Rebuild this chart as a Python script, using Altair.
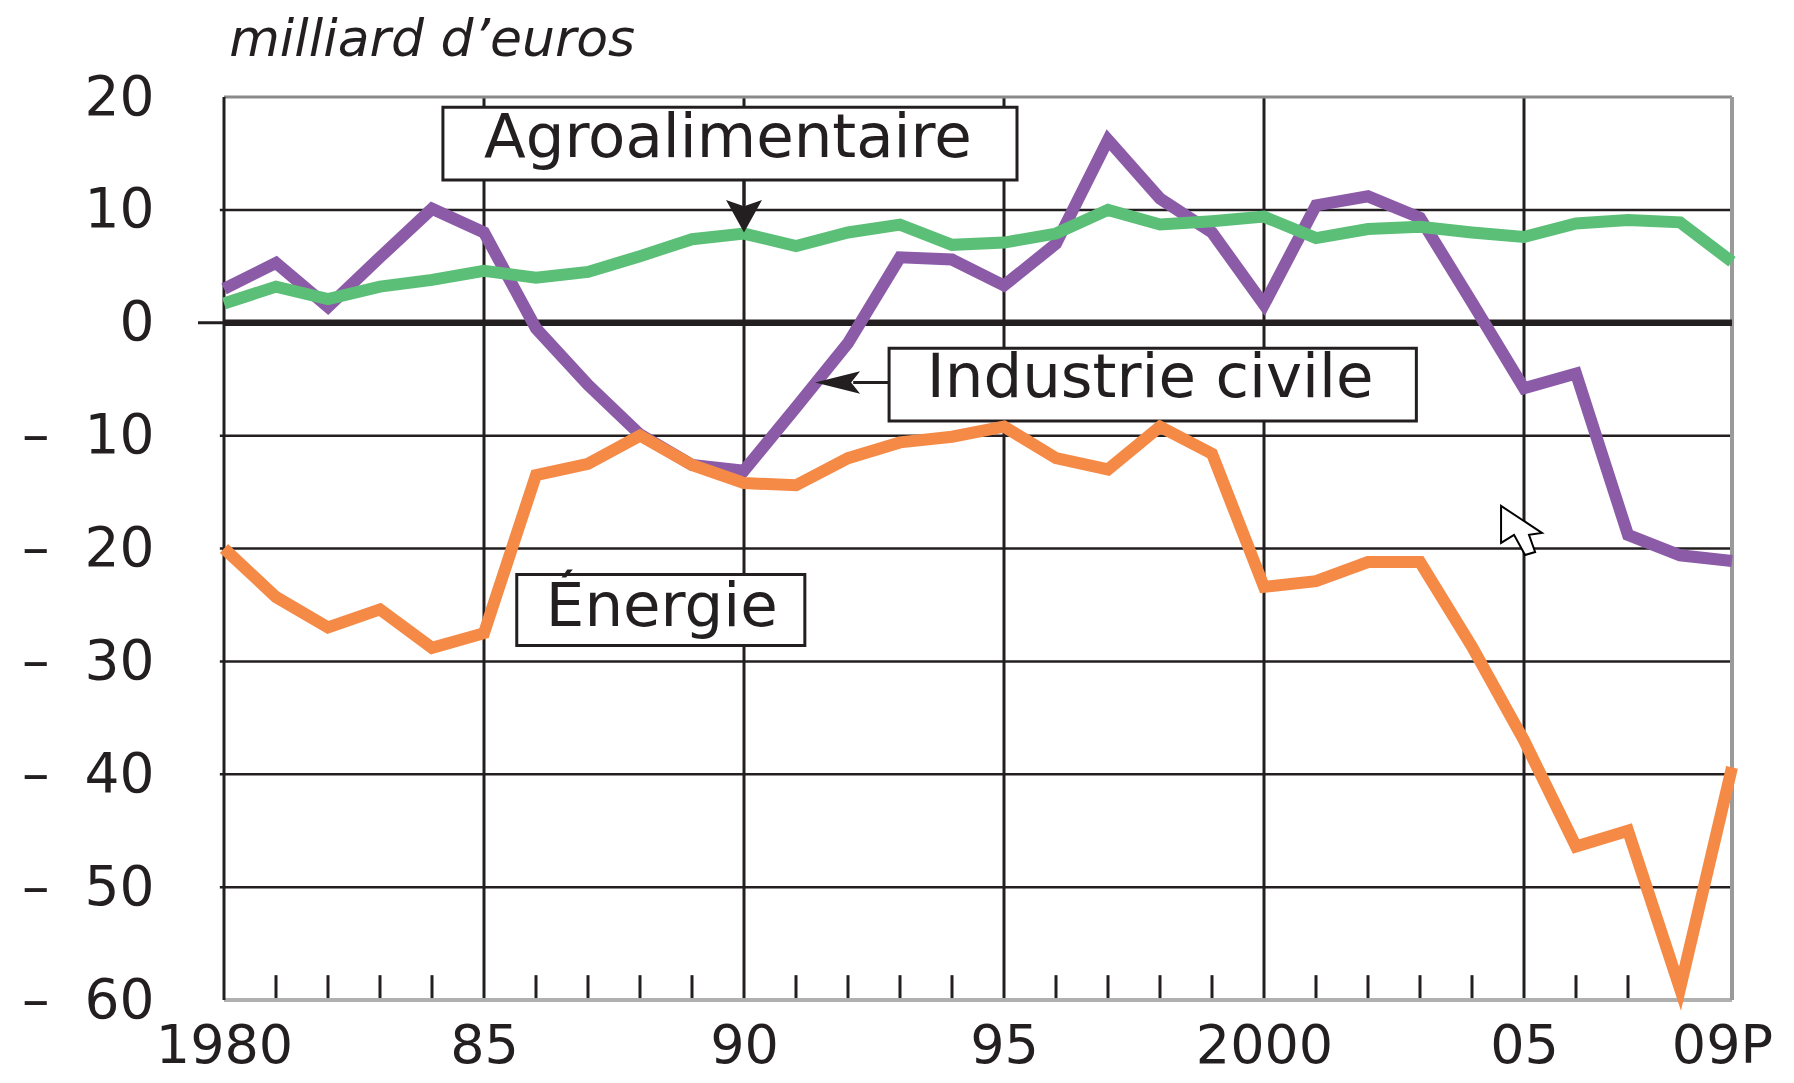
import altair as alt
import pandas as pd

# ---------------- data ----------------
years = list(range(1980, 2010))
industrie = [3.0, 5.3, 1.4, 5.8, 10.1, 8.0, -0.5, -5.5, -9.9, -12.6,
             -13.1, -7.5, -1.8, 5.8, 5.6, 3.3, 7.0, 16.2, 11.0, 8.0,
             1.6, 10.4, 11.2, 9.3, 1.8, -5.8, -4.5, -18.8, -20.6, -21.1]
agro = [1.7, 3.2, 2.1, 3.2, 3.8, 4.6, 4.0, 4.5, 5.9, 7.4,
        7.9, 6.8, 8.0, 8.7, 6.9, 7.1, 7.9, 10.0, 8.7, 9.0,
        9.4, 7.5, 8.3, 8.5, 8.0, 7.6, 8.8, 9.1, 8.9, 5.4]
energie = [-20.0, -24.3, -27.0, -25.4, -28.8, -27.5, -13.5, -12.5, -10.0, -12.6,
           -14.2, -14.4, -12.0, -10.6, -10.1, -9.2, -12.0, -13.0, -9.2, -11.6,
           -23.4, -22.9, -21.2, -21.2, -28.7, -37.0, -46.4, -45.0, -59.0, -39.4]

series_names = ["Industrie civile", "Agroalimentaire", "Énergie"]
series_colors = ["#8C5BA8", "#5CBF78", "#F58A47"]

y_ticks = [20, 10, 0, -10, -20, -30, -40, -50, -60]
x_tick_values = [1980, 1985, 1990, 1995, 2000, 2005, 2009]
x_tick_labels = ["1980", "85", "90", "95", "2000", "05", "09P"]
major_years = [1985, 1990, 1995, 2000, 2005]
grid_values = [10, -10, -20, -30, -40, -50]
unit_title = "milliard d’euros"

# annotation boxes (in data units)
ann_labels = ["Agroalimentaire", "Industrie civile", "Énergie"]
ann_x0 = [1984.21, 1992.79, 1985.63]
ann_x1 = [1995.25, 2002.93, 1991.17]
ann_y0 = [19.1, -2.25, -22.3]
ann_y1 = [12.65, -8.7, -28.6]
ann_tx = [1989.69, 1997.81, 1988.42]
ann_ty = [14.65, -6.6, -26.9]

# ---------------- frames ----------------
rows = []
for name, vals in zip(series_names, [industrie, agro, energie]):
    for yr, v in zip(years, vals):
        rows.append({"year": yr, "value": v, "series": name})
df = pd.DataFrame(rows)

YMIN, YMAX = -60, 20
XMIN, XMAX = 1980, 2009
minor_years = [y for y in years[1:-1] if y not in major_years]
ann = pd.DataFrame({"label": ann_labels, "x0": ann_x0, "x1": ann_x1,
                    "y0": ann_y0, "y1": ann_y1, "tx": ann_tx, "ty": ann_ty})

xs = alt.Scale(domain=[XMIN, XMAX], nice=False, zero=False)
ys = alt.Scale(domain=[YMIN, YMAX], nice=False, zero=False)

INK = "#231f20"
FONT = "DejaVu Sans"

label_expr = "''"
for v, l in reversed(list(zip(x_tick_values, x_tick_labels))):
    label_expr = f"datum.value == {v} ? '{l}' : ({label_expr})"

x_axis = alt.Axis(values=x_tick_values, labelExpr=label_expr, grid=False, domain=False,
                  ticks=False, tickSize=0, labelFontSize=54, labelFont=FONT, labelColor=INK,
                  labelPadding=62, labelBaseline="alphabetic", title=None,
                  labelOffset={"condition": {"test": f"datum.value == {XMAX}", "value": -10},
                               "value": 0},
                  labelOverlap=False, labelBound=False, labelFlush=False)
y_axis = alt.Axis(values=y_ticks,
                  labelExpr="datum.value < 0 ? '\u2013\u2007' + abs(datum.value) : '' + datum.value",
                  grid=False, domain=False, ticks=False, tickSize=0, labelFontSize=55,
                  labelFont=FONT, labelColor=INK, labelPadding=70, title=None,
                  labelOverlap=False, labelBound=False, labelFlush=False)


def X(field):
    return alt.X(field, type="quantitative", scale=xs, axis=x_axis)


def Y(field):
    return alt.Y(field, type="quantitative", scale=ys, axis=y_axis)


def vrules(xvals, y0, y1, color, width):
    d = pd.DataFrame({"x": xvals, "y0": [y0] * len(xvals), "y1": [y1] * len(xvals)})
    return alt.Chart(d).mark_rule(color=color, strokeWidth=width).encode(
        x=X("x"), y=Y("y0"), y2="y1:Q")


def hrules(yvals, x0, x1, color, width):
    d = pd.DataFrame({"y": yvals, "x0": [x0] * len(yvals), "x1": [x1] * len(yvals)})
    return alt.Chart(d).mark_rule(color=color, strokeWidth=width).encode(
        y=Y("y"), x=X("x0"), x2="x1:Q")


vgrid = vrules(major_years, YMAX, YMIN, INK, 3)
hgrid = hrules(grid_values, 1979.92, XMAX, INK, 2.5)
minor = vrules(minor_years, YMIN, -57.8, INK, 3)
left_b = vrules([XMIN], YMAX, YMIN, INK, 3)
right_b = vrules([XMAX], YMAX, YMIN, "#9a9a9a", 4)
top_b = hrules([YMAX], XMIN, XMAX, "#8a8a8a", 3)
bottom_b = hrules([YMIN], XMIN, XMAX, "#b0b0b0", 4)
zero_thin = hrules([0], 1979.5, XMIN, INK, 3)
zero_thick = hrules([0], XMIN, XMAX, INK, 6.5)

# annotation boxes + labels
boxes = alt.Chart(ann).mark_rect(fill="white", stroke=INK, strokeWidth=3).encode(
    x=X("x0"), x2="x1:Q", y=Y("y0"), y2="y1:Q")
texts = alt.Chart(ann).mark_text(font=FONT, fontSize=61, color=INK, align="center",
                                 baseline="alphabetic").encode(
    x=X("tx"), y=Y("ty"), text="label:N")

# data lines
lines = alt.Chart(df).mark_line(strokeWidth=12, strokeJoin="miter").encode(
    x=X("year"), y=Y("value"),
    color=alt.Color("series:N", scale=alt.Scale(domain=series_names, range=series_colors),
                    legend=None))

# arrows
arrow_down_line = vrules([1990], 12.65, 10.4, INK, 3)
arrow_left_line = hrules([-5.29], 1992.1, 1992.79, INK, 3)


def point_at(x, y, shape, size, **kw):
    d = pd.DataFrame({"x": [x], "y": [y]})
    return alt.Chart(d).mark_point(shape=shape, size=size, opacity=1, **kw).encode(
        x=X("x"), y=Y("y"))


arrow_down_head = point_at(1990, 9.6, "M0,1 L-1,-0.8 L0,-0.45 L1,-0.8 Z", 1296,
                           filled=True, color=INK, strokeWidth=0)
arrow_left_head = point_at(1991.80, -5.29, "M-1,0 L1,-0.5 L0.6,0 L1,0.5 Z", 2025,
                           filled=True, color=INK, strokeWidth=0)
cursor = point_at(2005.03, -18.4,
                  "M-1,-1 L-1,0.51 L-0.47,0.18 L-0.02,1 L0.39,0.88 L0.14,0.18 L0.67,0.1 Z",
                  2401, filled=True, fill="white", stroke="black", strokeWidth=2)

# unit title
tdf = pd.DataFrame({"t": [unit_title], "x": [1980.1], "y": [23.6]})
title = alt.Chart(tdf).mark_text(
    font=FONT, fontSize=52, fontStyle="italic", color=INK, align="left",
    baseline="alphabetic").encode(
    x=X("x"), y=Y("y"), text="t:N")

chart = alt.layer(
    vgrid, hgrid, minor, bottom_b, top_b, right_b, left_b,
    boxes, texts, zero_thin, zero_thick, lines,
    arrow_down_line, arrow_down_head, arrow_left_line, arrow_left_head,
    cursor, title
).properties(
    width=1508, height=903,
    padding={"left": 216, "top": 89, "right": 54, "bottom": 75},
    autosize=alt.AutoSizeParams(type="none"),
    background="white",
).configure_view(stroke=None)

chart.save("out.html", embed_options={"renderer": "svg", "actions": False})
